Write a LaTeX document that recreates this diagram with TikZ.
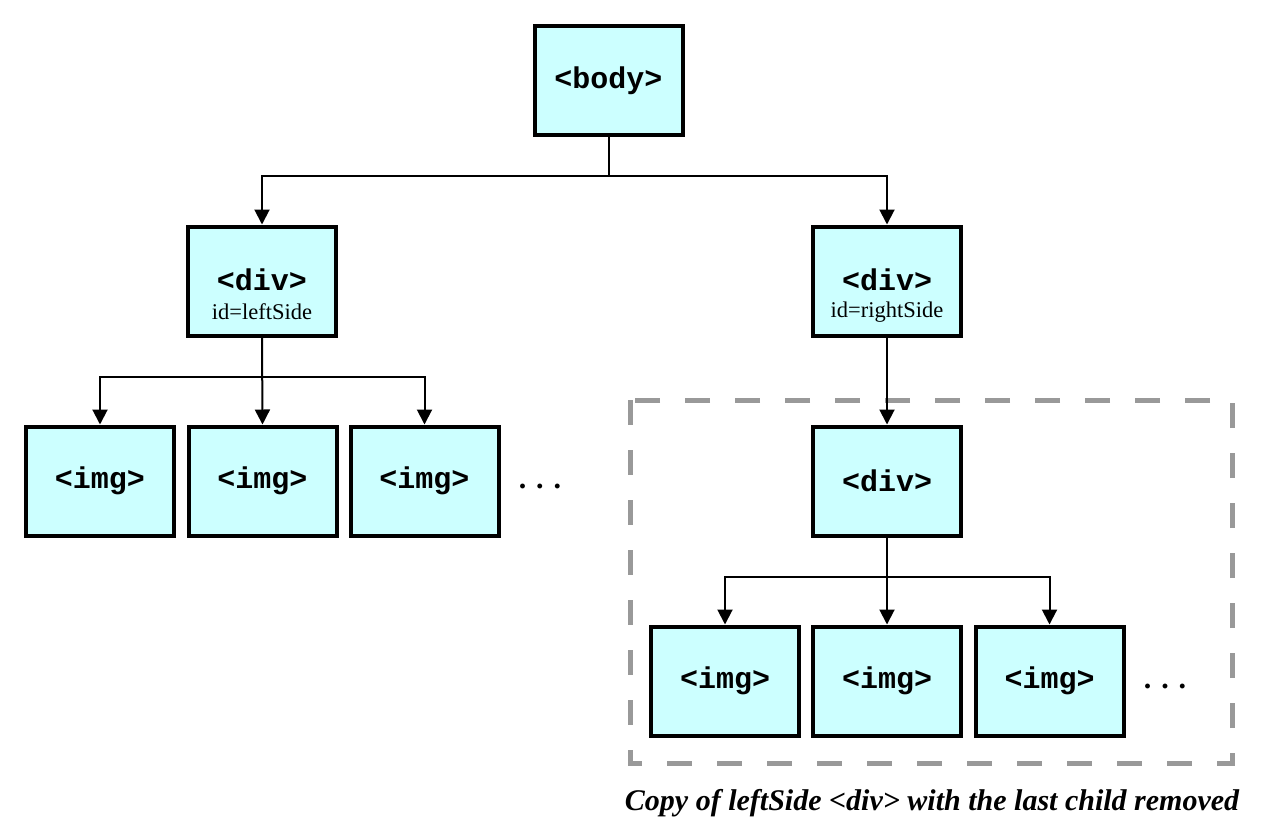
\documentclass[tikz,border=0pt]{standalone}
\usepackage{fontspec}
\setmainfont{Liberation Serif}
\setmonofont{Liberation Mono}
\usetikzlibrary{arrows.meta}
\definecolor{boxfill}{HTML}{CCFFFF}
\definecolor{dashgray}{HTML}{999999}
\begin{document}
\begin{tikzpicture}[x=1pt,y=-1pt,
  tagbox/.style={draw=black,line width=4pt,fill=boxfill,minimum width=148pt,minimum height=109pt,inner sep=0pt,align=center,font=\ttfamily\bfseries\fontsize{30}{32}\selectfont},
  tagtext/.style={inner sep=0pt,font=\ttfamily\bfseries\fontsize{30}{32}\selectfont},
  sub/.style={inner sep=0pt,font=\rmfamily\mdseries\fontsize{22.5}{24}\selectfont},
  dots/.style={font=\rmfamily\bfseries\fontsize{30}{32}\selectfont},
  conn/.style={line width=2pt,draw=black},
  arr/.style={conn,-{Triangle[length=15pt,width=15pt]}}
]
\useasboundingbox (0,0) rectangle (1271,838);
% dashed box
\draw[dashgray,line width=5pt,dash pattern=on 25pt off 25pt] (630,400) rectangle (1232,763);
\node[tagbox] (body) at (608.5,80.5) {<body>};
\node[tagbox] (divL) at (262,281) {};
\node[tagtext] (divLt) at (262,280) {<div>};
\node[sub] (divLs) at (262,312) {id=leftSide};
\node[tagbox] (divR) at (887,281) {};
\node[tagtext] (divRt) at (887,280) {<div>};
\node[sub] (divRs) at (887,312) {id=rightSide};
\node[tagbox] (i1) at (100,481) {<img>};
\node[tagbox] (i2) at (262.5,481) {<img>};
\node[tagbox] (i3) at (424.5,481) {<img>};
\node[dots] (dots1) at (540,486) {. . .};
\node[tagbox] (divI) at (887,481) {<div>};
\node[tagbox] (j1) at (725,681) {<img>};
\node[tagbox] (j2) at (887,681) {<img>};
\node[tagbox] (j3) at (1049.5,681) {<img>};
\node[dots] (dots2) at (1165,686) {. . .};
\node[font=\rmfamily\bfseries\itshape\fontsize{30}{32}\selectfont] (cap) at (932,803) {Copy of leftSide <div> with the last child removed};
% connectors
\coordinate (b1) at (608.5,176);
\draw[conn] (body.south) -- (b1);
\draw[arr] (b1) -| (divL.north);
\draw[arr] (b1) -| (divR.north);
\coordinate (l1) at (262,377);
\draw[arr] (divL.south) -- (i2.north);
\draw[arr] (l1) -| (i1.north);
\draw[arr] (l1) -| (i3.north);
\draw[arr] (divR.south) -- (divI.north);
\coordinate (r1) at (887,577);
\draw[arr] (divI.south) -- (j2.north);
\draw[arr] (r1) -| (j1.north);
\draw[arr] (r1) -| (j3.north);
\end{tikzpicture}
\end{document}
